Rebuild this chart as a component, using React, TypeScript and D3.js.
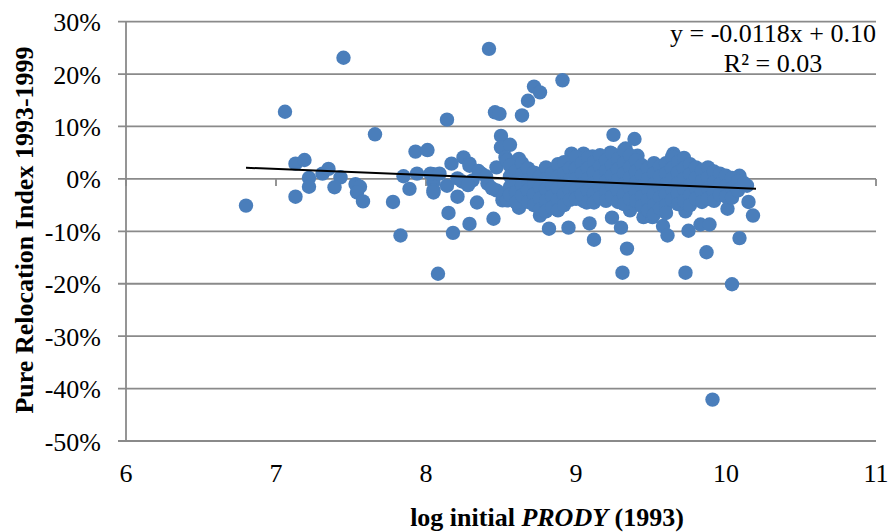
import React from "react";
import * as d3 from "d3";

const xTicks = [6, 7, 8, 9, 10, 11];
const yTicks = [30, 20, 10, 0, -10, -20, -30, -40, -50];

// log initial PRODY (1993)
const xs: number[] = [
  6.80, 7.06, 7.45, 7.66, 7.13, 7.19, 7.22, 7.22, 7.13, 7.31, 7.35, 7.43, 7.39, 7.53, 7.56, 7.54, 7.58, 7.78, 7.83, 7.85,
  7.89, 7.93, 8.01, 7.94, 8.05, 8.05, 8.05, 8.08, 8.42, 8.14, 8.46, 8.49, 8.64, 8.68, 8.72, 8.76, 8.91, 8.50, 8.50, 8.56,
  8.25, 8.17, 8.29, 8.62, 8.53, 8.05, 8.14, 8.21, 8.34, 8.15, 8.18, 8.29, 8.45, 8.51, 8.62, 8.76, 8.82, 8.95, 9.09, 9.12,
  8.98, 9.07, 8.97, 9.05, 9.11, 9.25, 9.39, 9.23, 9.33, 9.41, 9.65, 9.24, 9.30, 9.34, 9.36, 9.45, 9.51, 9.58, 9.61, 9.05,
  10.15, 10.18, 10.09, 9.87, 9.75, 9.83, 9.89, 9.73, 10.01, 10.09, 10.14, 9.31, 9.73, 10.04, 9.91,
  8.29, 8.03, 8.09, 8.21, 8.37, 8.31, 8.41, 8.47, 8.54, 8.61, 8.51, 8.54, 8.63, 8.69, 8.74, 8.61, 8.47, 8.24, 8.35, 8.40, 8.44, 8.28,
  8.56, 8.56, 8.56, 8.56,
  8.60, 8.60, 8.60, 8.60,
  8.64, 8.64, 8.64, 8.64,
  8.68, 8.68, 8.68, 8.68,
  8.72, 8.72, 8.72, 8.72,
  8.76, 8.76, 8.76, 8.76,
  8.80, 8.80, 8.80, 8.80, 8.80,
  8.84, 8.84, 8.84, 8.84,
  8.88, 8.88, 8.88, 8.88, 8.88,
  8.92, 8.92, 8.92, 8.92, 8.92,
  8.96, 8.96, 8.96, 8.96,
  9.00, 9.00, 9.00, 9.00, 9.00,
  9.04, 9.04, 9.04, 9.04,
  9.08, 9.08, 9.08, 9.08, 9.08,
  9.12, 9.12, 9.12, 9.12, 9.12,
  9.16, 9.16, 9.16, 9.16, 9.16,
  9.20, 9.20, 9.20, 9.20, 9.20,
  9.24, 9.24, 9.24, 9.24, 9.24,
  9.28, 9.28, 9.28, 9.28, 9.28,
  9.32, 9.32, 9.32, 9.32, 9.32, 9.32,
  9.36, 9.36, 9.36, 9.36, 9.36,
  9.40, 9.40, 9.40, 9.40, 9.40,
  9.44, 9.44, 9.44, 9.44, 9.44,
  9.48, 9.48, 9.48, 9.48, 9.48,
  9.52, 9.52, 9.52, 9.52, 9.52, 9.52,
  9.56, 9.56, 9.56, 9.56, 9.56,
  9.60, 9.60, 9.60, 9.60, 9.60, 9.60,
  9.64, 9.64, 9.64, 9.64, 9.64,
  9.68, 9.68, 9.68, 9.68, 9.68,
  9.72, 9.72, 9.72, 9.72, 9.72,
  9.76, 9.76, 9.76, 9.76, 9.76,
  9.80, 9.80, 9.80, 9.80,
  9.84, 9.84, 9.84, 9.84,
  9.88, 9.88, 9.88, 9.88,
  9.92, 9.92, 9.92, 9.92,
  9.96, 9.96, 9.96,
  10.00, 10.00, 10.00,
  10.04, 10.04, 10.04,
  10.08, 10.08,
  10.12,
];

// Pure Relocation Index 1993-1999 (%)
const ys: number[] = [
  -5.1, 12.8, 23.1, 8.5, 2.9, 3.6, 0.2, -1.5, -3.4, 1.0, 1.9, 0.3, -1.6, -1.0, -1.5, -2.6, -4.3, -4.4, -10.8, 0.5,
  -1.9, 5.2, 5.5, 1.0, 0.9, -0.7, -2.2, -18.1, 24.8, 11.3, 12.7, 12.4, 12.1, 14.9, 17.6, 16.5, 18.8, 8.2, 6.0, 6.5,
  4.1, 2.9, 2.9, 3.8, 4.1, -2.6, -1.3, -3.4, -4.5, -6.5, -10.3, -8.6, -7.6, -4.1, -5.5, -7.0, -9.5, -9.3, -8.5, -11.6,
  -2.8, -4.5, 4.8, 4.8, 4.3, 8.4, 7.6, 5.0, 5.8, 4.4, 4.8, -7.4, -9.3, -13.3, -6.0, -7.3, -7.3, -9.0, -10.8, -4.2,
  -4.4, -7.0, -11.3, -14.0, -9.9, -8.7, -8.7, -6.2, -5.7, 0.6, -1.3, -17.9, -17.9, -20.1, -42.1,
  2.5, 1.0, 1.0, 0.1, 1.0, -0.3, -0.9, 2.2, 3.5, 3.5, -2.8, -4.1, -4.7, -3.6, 1.0, -0.3, -2.2, -0.5, 1.5, 0.5, -1.8, -1.2,
  2.5, 0.5, -1.5, -3.0,
  1.5, -0.5, -2.5, -4.5,
  3.0, 0.8, -1.2, -3.2,
  2.0, -0.2, -2.2, -4.4,
  1.2, -1.0, -3.0, -5.0,
  0.5, -1.6, -3.8, -5.8,
  2.2, 0.0, -2.0, -4.2, -6.2,
  1.0, -1.2, -3.4, -5.5,
  2.8, 0.4, -1.8, -4.0, -6.0,
  3.2, 1.0, -1.0, -3.0, -5.0,
  2.0, -0.2, -2.2, -4.0,
  4.2, 2.0, 0.0, -2.0, -3.8,
  3.0, 1.0, -1.0, -3.0,
  4.0, 2.0, 0.0, -2.2, -4.4,
  3.2, 1.2, -0.8, -2.8, -4.5,
  4.5, 2.4, 0.4, -1.6, -3.6,
  3.5, 1.5, -0.5, -2.5, -4.2,
  4.8, 2.6, 0.6, -1.4, -3.4,
  3.8, 1.8, -0.2, -2.2, -4.4,
  5.5, 3.0, 1.0, -1.0, -3.0, -4.8,
  4.5, 2.2, 0.2, -1.8, -3.8,
  3.5, 1.4, -0.6, -2.6, -4.2,
  2.6, 0.6, -1.4, -3.4, -5.2,
  2.0, 0.0, -2.0, -4.0, -6.0,
  3.0, 1.0, -1.0, -3.0, -5.0, -6.8,
  2.4, 0.4, -1.6, -3.6, -5.6,
  3.0, 1.0, -1.0, -3.0, -5.0, -6.5,
  4.2, 2.0, 0.0, -2.0, -4.0,
  3.2, 1.2, -0.8, -2.8, -4.8,
  4.0, 2.0, 0.0, -2.0, -4.2,
  2.8, 0.8, -1.2, -3.2, -5.0,
  2.2, 0.2, -1.8, -3.8,
  1.6, -0.4, -2.4, -4.4,
  2.2, 0.2, -1.8, -3.8,
  1.4, -0.6, -2.6, -4.2,
  1.0, -1.0, -3.0,
  0.6, -1.4, -3.4,
  0.2, -1.8, -3.6,
  -0.4, -2.2,
  -0.8,
];

// trendline (percent units)
const trendSlope = -1.18;
const trendIntercept = 10.15;
const trendX = [6.8, 10.2];
const eqText = ["y = -0.0118x + 0.10", "R² = 0.03"];

export default function App() {
  const W = 890, H = 532;
  const x = d3.scaleLinear().domain([6, 11]).range([126, 876]);
  const y = d3.scaleLinear().domain([-50, 30]).range([441, 21.6]);
  const font = "'Liberation Serif', 'Times New Roman', serif";
  const grid = "#8a8a8a";
  const line = d3.line<number>().x((d) => x(d)).y((d) => y(trendSlope * d + trendIntercept));
  const n = Math.min(xs.length, ys.length);
  const pts = d3.range(n).map((i) => [xs[i], ys[i]]);
  return (
    <svg width={W} height={H} style={{ position: "absolute", left: 0, top: 0, background: "#fff" }} fontFamily={font}>
      {yTicks.map((t) => (
        <g key={t}>
          <line x1={118} x2={x(11)} y1={y(t)} y2={y(t)} stroke={grid} strokeWidth={1.8} />
          <text x={101} y={y(t) + 9.5} fontSize={26} textAnchor="end" fill="#000">{t}%</text>
        </g>
      ))}
      <line x1={x(6)} x2={x(6)} y1={y(30)} y2={y(-50)} stroke={grid} strokeWidth={1.8} />
      {xTicks.map((t) => (
        <g key={t}>
          <line x1={x(t)} x2={x(t)} y1={y(0)} y2={y(0) + 7} stroke={grid} strokeWidth={1.8} />
          <text x={x(t)} y={482} fontSize={26} textAnchor="middle" fill="#000">{t}</text>
        </g>
      ))}
      {pts.map((p, i) => (
        <circle key={i} cx={x(p[0])} cy={y(p[1])} r={7.2} fill="#4a7ebb" />
      ))}
      <path d={line(trendX) || ""} stroke="#000" strokeWidth={2} fill="none" />
      <text x={773} y={42} fontSize={26} textAnchor="middle">{eqText[0]}</text>
      <text x={773} y={72} fontSize={26} textAnchor="middle">{eqText[1]}</text>
      <text transform={`translate(33,230) rotate(-90)`} fontSize={26} fontWeight="bold" textAnchor="middle">
        Pure Relocation Index 1993-1999
      </text>
      <text x={547} y={526} fontSize={26} fontWeight="bold" textAnchor="middle">
        log initial <tspan fontStyle="italic">PRODY</tspan> (1993)
      </text>
    </svg>
  );
}
